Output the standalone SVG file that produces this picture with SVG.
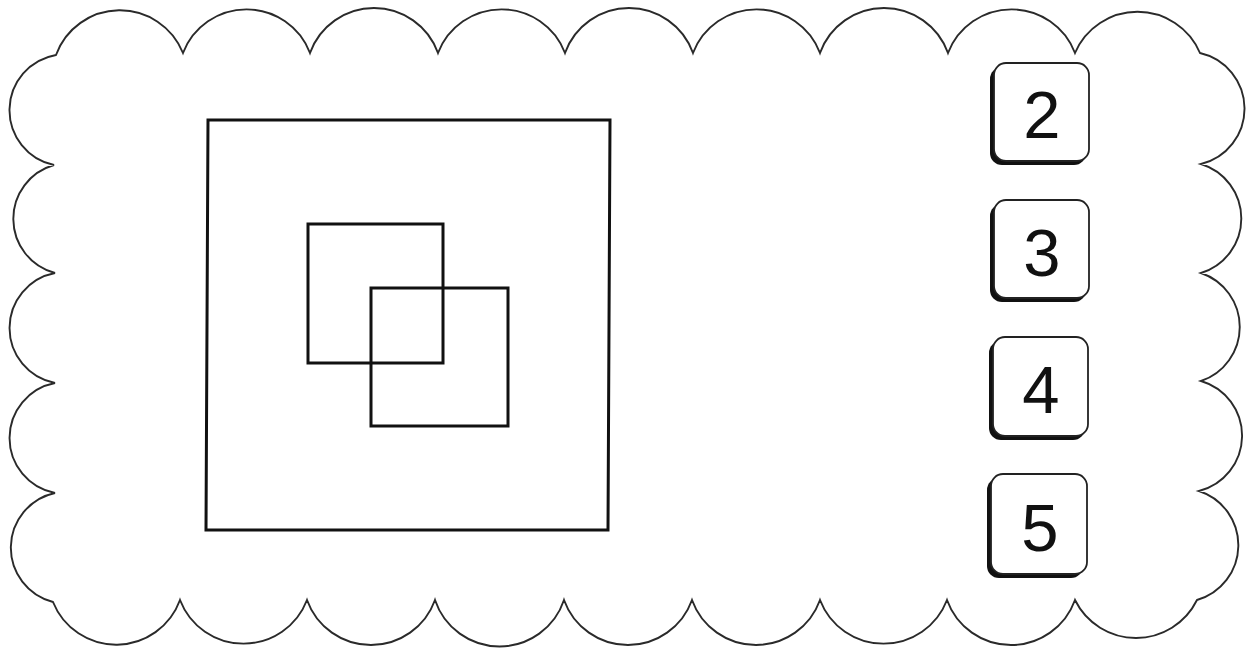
<svg xmlns="http://www.w3.org/2000/svg" width="1250" height="649" viewBox="0 0 1250 649">
<style>
.cloud{fill:#fff;stroke:#2a2a2a;stroke-width:1.9;stroke-linejoin:miter}
.sq{fill:none;stroke:#111;stroke-width:3}
.shadow{fill:#111}
.key{fill:#fff;stroke:#222;stroke-width:1.8}
.num{font-family:"Liberation Sans","DejaVu Sans",sans-serif;font-size:67px;fill:#111;text-anchor:middle}
</style>
<rect width="1250" height="649" fill="#fff"/>
<g id="cloud">
<path class="cloud" d="M56,55 A68,68 0 0 1 183,53 A68,68 0 0 1 310,53 A68,68 0 0 1 438,53 A68,68 0 0 1 565,53 A68,68 0 0 1 693,53 A68,68 0 0 1 820,53 A68,68 0 0 1 948,53 A68,68 0 0 1 1075,53 A68,68 0 0 1 1200,53 A57,57 0 0 1 1201,164 A57,57 0 0 1 1201,273 A57,57 0 0 1 1201,381 A57,57 0 0 1 1199,491 A57,57 0 0 1 1197,600 A68,68 0 0 1 1075,600 A68,68 0 0 1 947,600 A68,68 0 0 1 820,600 A68,68 0 0 1 692,600 A68,68 0 0 1 564,600 A68,68 0 0 1 435,600 A68,68 0 0 1 307,600 A68,68 0 0 1 180,600 A68,68 0 0 1 53,602 A56,56 0 0 1 55,493 A56,56 0 0 1 55,383 A56,56 0 0 1 55,273 A56,56 0 0 1 54,165 A56,56 0 0 1 56,55 Z"/>
</g>
<g id="outer-square"><path class="sq" d="M208,120 L610,120 L608,530 L206,530 Z"/></g>
<g id="square-a"><rect class="sq" x="308" y="224" width="135" height="139"/></g>
<g id="square-b"><rect class="sq" x="371" y="288" width="137" height="138"/></g>
<g id="connectors"/>
<g id="key-2">
<rect class="shadow" x="990" y="67" width="96" height="98" rx="12"/>
<rect class="key" x="994" y="63" width="95" height="98" rx="12"/>
<text class="num" x="1042" y="138">2</text>
</g>
<g id="key-3">
<rect class="shadow" x="990" y="204" width="96" height="98" rx="12"/>
<rect class="key" x="994" y="200" width="95" height="98" rx="12"/>
<text class="num" x="1042" y="276">3</text>
</g>
<g id="key-4">
<rect class="shadow" x="989" y="341" width="96" height="99" rx="12"/>
<rect class="key" x="993" y="337" width="95" height="99" rx="12"/>
<text class="num" x="1041" y="413">4</text>
</g>
<g id="key-5">
<rect class="shadow" x="987" y="478" width="96" height="100" rx="12"/>
<rect class="key" x="991" y="474" width="96" height="100" rx="12"/>
<text class="num" x="1040" y="551">5</text>
</g>
</svg>
